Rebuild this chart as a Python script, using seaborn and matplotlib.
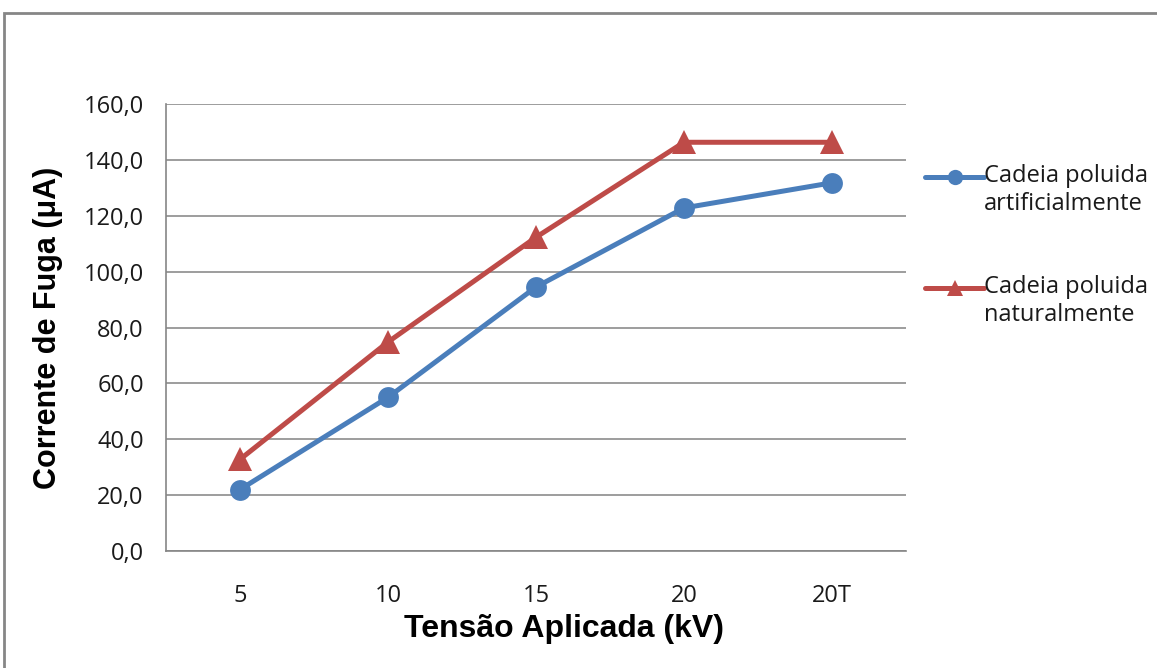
import matplotlib
matplotlib.use("Agg")
import matplotlib.pyplot as plt
import matplotlib.patches as mpatches
from matplotlib import font_manager as fm
import seaborn as sns
import pandas as pd

categories = ["5", "10", "15", "20", "20T"]
artificial = [22.0, 55.0, 94.5, 122.8, 131.8]
natural = [32.8, 74.8, 112.3, 146.3, 146.3]
series_names = ["Cadeia poluida\nartificialmente", "Cadeia poluida\nnaturalmente"]
y_ticks = [0, 20, 40, 60, 80, 100, 120, 140, 160]

df = pd.DataFrame({
    "Tensão": categories * 2,
    "Corrente": artificial + natural,
    "Série": [series_names[0]] * len(categories) + [series_names[1]] * len(categories),
})

# find regular-width Liberation Sans Bold
bold_path = None
for f in fm.fontManager.ttflist:
    if f.name == "Liberation Sans" and f.weight in (700, "bold") and "Narrow" not in f.fname \
            and f.style == "normal":
        bold_path = f.fname
        break
if bold_path:
    xlabel_font = fm.FontProperties(fname=bold_path, size=23)
    ylabel_font = fm.FontProperties(fname=bold_path, size=22)
else:
    xlabel_font = fm.FontProperties(family="DejaVu Sans", weight="bold", size=20)
    ylabel_font = fm.FontProperties(family="DejaVu Sans", weight="bold", size=20)

sns.set_style("white")
fig = plt.figure(figsize=(11.57, 6.68), dpi=100)
ax = fig.add_axes([166 / 1157, 1 - 551 / 668, 740 / 1157, 447 / 668])

blue = "#4A7EBB"
red = "#BE4B48"
sns.lineplot(data=df, x="Tensão", y="Corrente", hue="Série", style="Série",
             markers={series_names[0]: "o", series_names[1]: "^"}, dashes=False,
             palette={series_names[0]: blue, series_names[1]: red},
             linewidth=3.6, markersize=15, markeredgewidth=0, sort=False, ax=ax)
for ln in ax.lines:
    if ln.get_marker() == "^":
        ln.set_markersize(17)

tick_font = {"family": "Open Sans", "size": 17}
ax.set_xlim(-0.5, 4.5)
ax.set_ylim(0, 160)
ax.set_yticks(y_ticks)
ax.set_yticklabels([f"{v:.1f}".replace(".", ",") for v in y_ticks], fontdict=tick_font, color="#1a1a1a")
ax.set_xticks(range(len(categories)))
ax.set_xticklabels(categories, fontdict=tick_font, color="#1a1a1a")
ax.set_xticks([i - 0.5 for i in range(len(categories) + 1)], minor=True)
ax.tick_params(axis="x", which="major", length=0, pad=24)
ax.tick_params(axis="x", which="minor", length=8, color="#868686", width=1.2, direction="out")
ax.tick_params(axis="y", length=5.5, color="#868686", width=1.2, direction="out", pad=10.5)
ax.yaxis.grid(True, color="#8c8c8c", linewidth=1.2)
ax.xaxis.grid(False)
for s in ["top", "right"]:
    ax.spines[s].set_visible(False)
for s in ["left", "bottom"]:
    ax.spines[s].set_color("#868686")
    ax.spines[s].set_linewidth(1.2)

ax.set_xlabel("Tensão Aplicada (kV)", fontproperties=xlabel_font, color="black")
ax.xaxis.set_label_coords((564 - 166) / 740, -(629 - 551) / 447)
ax.xaxis.label.set_verticalalignment("center")
ax.set_ylabel("Corrente de Fuga (μA)", fontproperties=ylabel_font, color="black", labelpad=15)

leg = ax.legend(loc="upper left", bbox_to_anchor=(1.026, 0.885), frameon=False,
                prop={"family": "Open Sans", "size": 17}, handlelength=2.5,
                handleheight=4.5, handletextpad=0.0, labelspacing=1.53,
                borderaxespad=0, borderpad=0)
for t in leg.get_texts():
    t.set_color("#1a1a1a")
for h in leg.legend_handles:
    h.set_linewidth(3.6)
    h.set_markersize(11)

fig.patches.append(mpatches.Rectangle((4 / 1157, -0.1), 1.2, 1 - 13 / 668 + 0.1,
                                      transform=fig.transFigure, fill=False,
                                      edgecolor="#868686", linewidth=2))

fig.savefig("out.png", dpi=100)
